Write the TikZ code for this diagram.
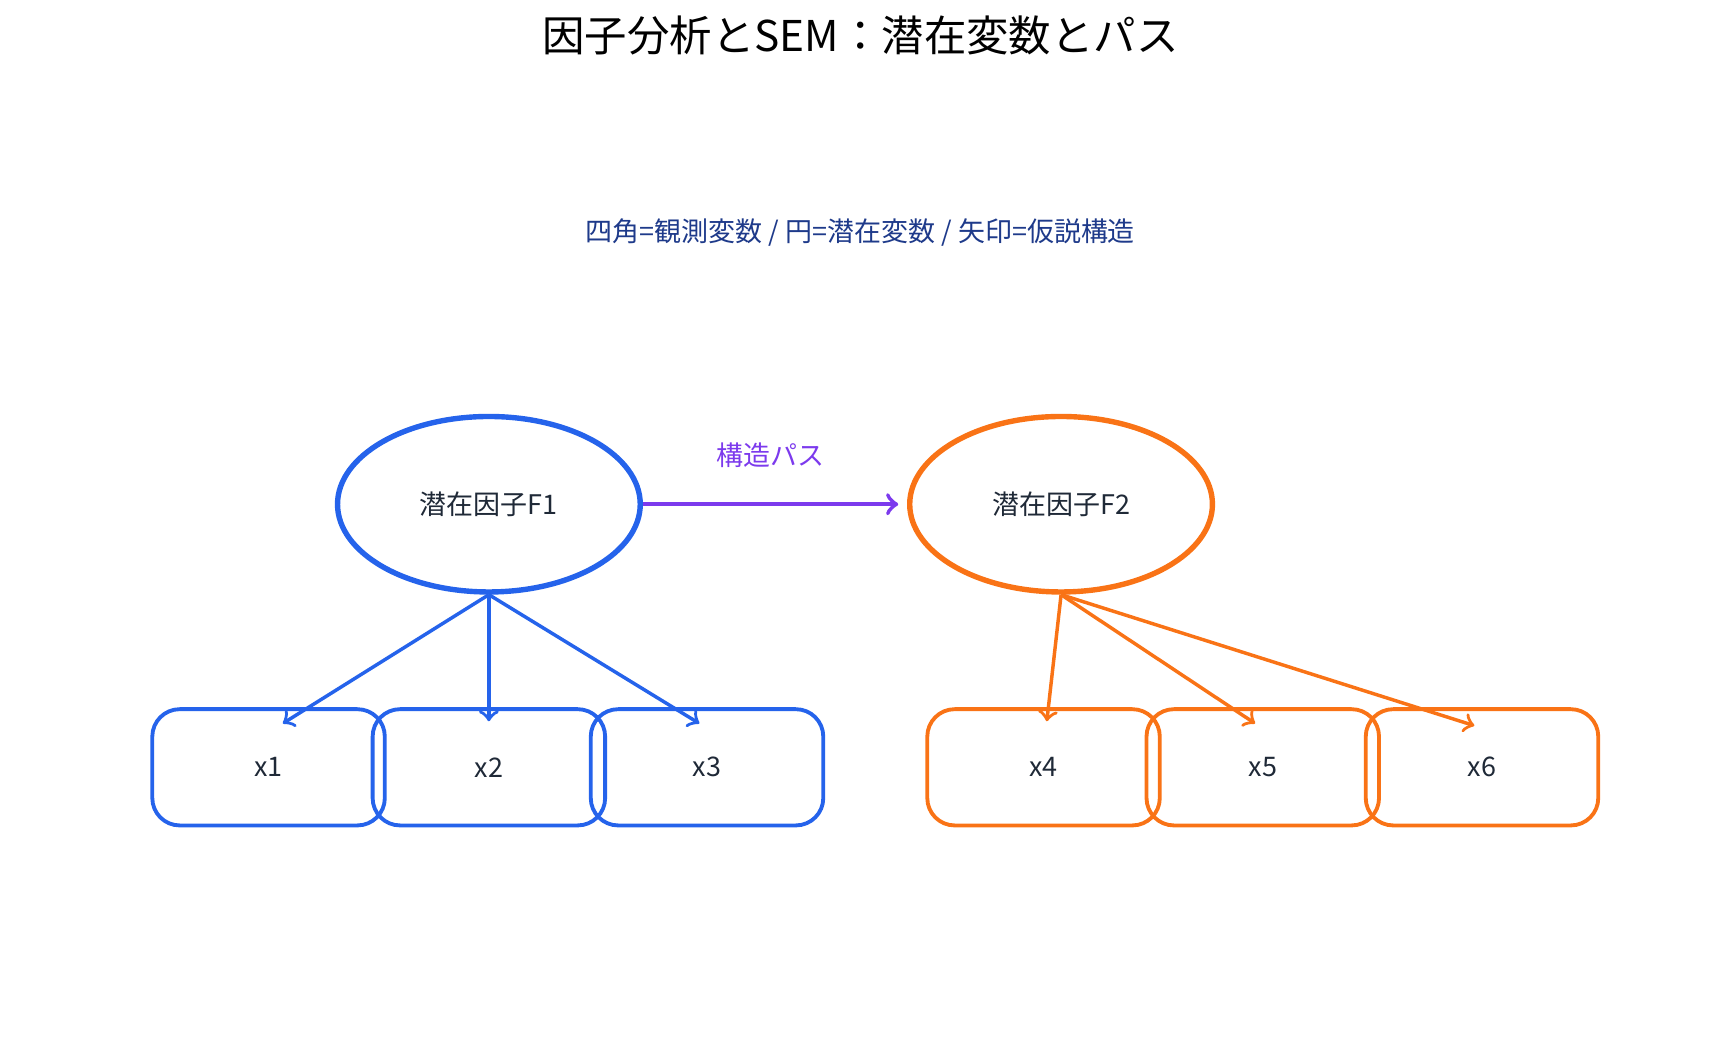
\documentclass[tikz,border=0pt]{standalone}
\usepackage{fontspec}
\setmainfont{Noto Sans CJK JP}
\usepackage{tikz}
\usetikzlibrary{shapes.geometric}
\definecolor{fblue}{HTML}{2563EB}
\definecolor{forange}{HTML}{F97316}
\definecolor{fpurple}{HTML}{7C3AED}
\definecolor{fnavy}{HTML}{1E3A8A}
\definecolor{ftext}{HTML}{1F2937}
\tikzset{
	latent/.style={shape=ellipse,draw=#1,line width=1.4pt,minimum width=2.76cm,minimum height=1.6cm,text=ftext,font=\fontsize{7}{8}\selectfont},
	observed/.style={shape=rectangle,rounded corners=0.25cm,draw=#1,line width=1pt,minimum width=2.12cm,minimum height=1.06cm,text=ftext,font=\fontsize{7}{8}\selectfont},
	load/.style={->,line width=0.9pt,draw=#1}
}
\begin{document}
\begin{tikzpicture}[x=0.01cm,y=-0.01cm]
	\useasboundingbox (0,0) rectangle (1560,961);
	\node (title) at (785,32) {\fontsize{11}{13}\selectfont 因子分析とSEM：潜在変数とパス};
	\node[text=fnavy] (legend) at (785,212) {\fontsize{7}{8}\selectfont 四角=観測変数 / 円=潜在変数 / 矢印=仮説構造};

	\node[latent=fblue] (f1) at (446,460) {潜在因子F1};
	\node[latent=forange] (f2) at (968,460) {潜在因子F2};

	\node[observed=fblue] (x1) at (245,700) {x1};
	\node[observed=fblue] (x2) at (446,700) {x2};
	\node[observed=fblue] (x3) at (645,700) {x3};
	\node[observed=forange] (x4) at (952,700) {x4};
	\node[observed=forange] (x5) at (1152,700) {x5};
	\node[observed=forange] (x6) at (1352,700) {x6};

	\coordinate (t1) at (258,660);
	\coordinate (t2) at (446,658);
	\coordinate (t3) at (638,660);
	\coordinate (t4) at (955,658);
	\coordinate (t5) at (1145,660);
	\coordinate (t6) at (1345,662);

	\draw[load=fblue] (f1.south) -- (t1);
	\draw[load=fblue] (f1.south) -- (t2);
	\draw[load=fblue] (f1.south) -- (t3);
	\draw[load=forange] (f2.south) -- (t4);
	\draw[load=forange] (f2.south) -- (t5);
	\draw[load=forange] (f2.south) -- (t6);

	\draw[load=fpurple,line width=1.1pt] (f1.east) -- node[above=0.2cm,text=fpurple,font=\fontsize{7}{8}\selectfont]{構造パス} ([xshift=-0.08cm]f2.west);
\end{tikzpicture}
\end{document}
